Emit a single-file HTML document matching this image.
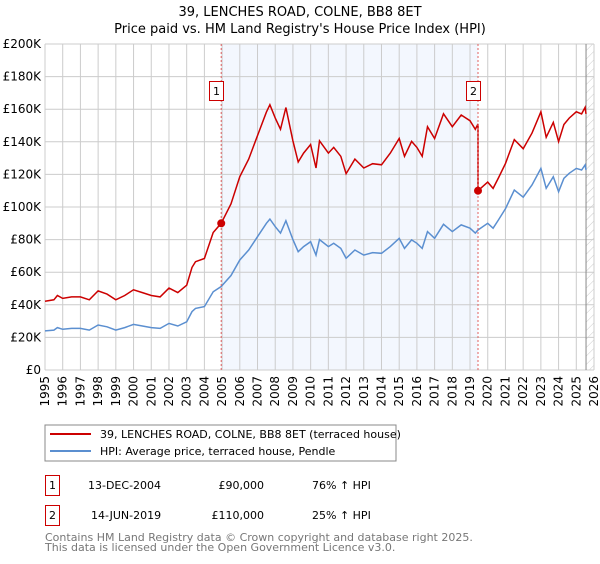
<!DOCTYPE html>
<html><head><meta charset="utf-8"><style>
body{margin:0;background:#fff;font-family:"DejaVu Sans","Liberation Sans",sans-serif;}
svg text{font-family:"DejaVu Sans","Liberation Sans",sans-serif;}
</style></head><body>
<svg id="c" width="600" height="560" xmlns="http://www.w3.org/2000/svg">
<defs><pattern id="hatch" width="6" height="6" patternUnits="userSpaceOnUse" patternTransform="rotate(45)"><line x1="0" y1="0" x2="0" y2="6" stroke="#ccc" stroke-width="1"/></pattern></defs>
<text x="300" y="16" text-anchor="middle" font-size="13" fill="#000">39, LENCHES ROAD, COLNE, BB8 8ET</text>
<text x="300" y="33" text-anchor="middle" font-size="13" fill="#000">Price paid vs. HM Land Registry's House Price Index (HPI)</text>
<g id="plot"></g>
<rect x="45" y="425" width="351" height="36" fill="#fff" stroke="#888"/>
<line x1="50" y1="434" x2="91" y2="434" stroke="#cc0000" stroke-width="2"/>
<text x="100" y="438" font-size="11">39, LENCHES ROAD, COLNE, BB8 8ET (terraced house)</text>
<line x1="50" y1="451" x2="91" y2="451" stroke="#5b8fd0" stroke-width="2"/>
<text x="100" y="455" font-size="11">HPI: Average price, terraced house, Pendle</text>
<g>
<rect x="45.5" y="475.5" width="14" height="20" fill="#fff" stroke="#cc0000"/>
<text x="52.5" y="489" text-anchor="middle" font-size="11">1</text>
<text x="88" y="489" font-size="11">13-DEC-2004</text>
<text x="264" y="489" text-anchor="end" font-size="11">£90,000</text>
<text x="312" y="489" font-size="11">76% ↑ HPI</text></g>
<g>
<rect x="45.5" y="505.5" width="14" height="20" fill="#fff" stroke="#cc0000"/>
<text x="52.5" y="519" text-anchor="middle" font-size="11">2</text>
<text x="91" y="519" font-size="11">14-JUN-2019</text>
<text x="264" y="519" text-anchor="end" font-size="11">£110,000</text>
<text x="312" y="519" font-size="11">25% ↑ HPI</text></g>
<text x="45" y="541" font-size="11" fill="#777">Contains HM Land Registry data © Crown copyright and database right 2025.</text>
<text x="45" y="551" font-size="11" fill="#777">This data is licensed under the Open Government Licence v3.0.</text>
</svg>
<script>
const years=[1995,1996,1997,1998,1999,2000,2001,2002,2003,2004,2005,2006,2007,2008,2009,2010,2011,2012,2013,2014,2015,2016,2017,2018,2019,2020,2021,2022,2023,2024,2025,2026];
const yTicks=[0,20,40,60,80,100,120,140,160,180,200];
const hpiT=[1995,1995.5,1995.7,1996,1996.5,1997,1997.5,1998,1998.5,1999,1999.5,2000,2000.5,2001,2001.5,2002,2002.5,2003,2003.3,2003.5,2004,2004.5,2004.95,2005.5,2006,2006.5,2007,2007.5,2007.7,2008,2008.3,2008.6,2009,2009.3,2009.6,2010,2010.3,2010.5,2011,2011.3,2011.7,2012,2012.5,2013,2013.5,2014,2014.5,2015,2015.3,2015.7,2016,2016.3,2016.6,2017,2017.5,2018,2018.5,2019,2019.3,2019.45,2020,2020.3,2020.6,2021,2021.5,2022,2022.5,2023,2023.3,2023.7,2024,2024.3,2024.6,2025,2025.3,2025.5,2025.55];
const hpiV=[24,24.5,26,25,25.5,25.5,24.5,27.6,26.5,24.5,26,28,27,26,25.5,28.6,27,29.6,35.8,37.8,38.9,48,51.2,58,67.5,73.6,81.8,90,92.6,88,84,91.6,80,72.6,75.7,78.7,70.5,80,75.7,77.7,74.6,68.5,73.6,70.5,72,71.6,75.7,80.8,74.6,79.8,77.7,74.6,84.9,80.8,89.4,84.9,89,87,84,85.9,90,87,92,99,110.4,106,113.5,123.7,111.5,118.6,109.4,117.6,120.7,123.7,122.7,125.8,122.7];
const saleT=[2004.95,2019.45];
const saleV=[90,110];
const saleLbl=["1","2"];
const X0=45,X1=594,Y0=370,Y1=44;
const xs=t=>X0+(t-1995)/(2026-1995)*(X1-X0);
const ys=v=>Y0-v/200*(Y0-Y1);
const g=document.getElementById('plot');
const NS='http://www.w3.org/2000/svg';
function mk(tag,attrs,parent){const e=document.createElementNS(NS,tag);for(const k in attrs)e.setAttribute(k,attrs[k]);(parent||g).appendChild(e);return e;}
const hpiAt=t=>{for(let i=1;i<hpiT.length;i++){if(t<=hpiT[i]){const f=(t-hpiT[i-1])/(hpiT[i]-hpiT[i-1]);return hpiV[i-1]+f*(hpiV[i]-hpiV[i-1]);}}return hpiV[hpiV.length-1];};
let e=mk('rect',{x:xs(saleT[0]),y:Y1,width:xs(saleT[1])-xs(saleT[0]),height:Y0-Y1,fill:'#eef3fd',opacity:0.7});


e=mk('rect',{x:xs(2025.55),y:Y1,width:X1-xs(2025.55),height:Y0-Y1,fill:'url(#hatch)'});


years.forEach(y=>{const l=mk('line',{x1:xs(y),x2:xs(y),y1:Y1,y2:Y0,stroke:'#ccc'});


const t=mk('text',{x:0,y:0,'font-size':12,'text-anchor':'end',transform:`translate(${xs(y)+4},${Y0+6}) rotate(-90)`});t.textContent=y;

});
yTicks.forEach(v=>{const l=mk('line',{x1:X0,x2:X1,y1:ys(v),y2:ys(v),stroke:'#ccc'});


const t=mk('text',{x:X0-4,y:ys(v)+4,'font-size':12,'text-anchor':'end'});t.textContent=v===0?'£0':'£'+v+'K';

});
e=mk('line',{x1:xs(2025.55),x2:xs(2025.55),y1:Y1,y2:Y0,stroke:'#888'});


let hp=hpiT.map((t,i)=>(i?'L':'M')+xs(t).toFixed(1)+','+ys(hpiV[i]).toFixed(1)).join('');
e=mk('path',{d:hp,fill:'none',stroke:'#5b8fd0','stroke-width':1.5});


const r0=saleV[0]/hpiAt(saleT[0]),r1=saleV[1]/hpiAt(saleT[1]);
let pts=[];
hpiT.forEach((t,i)=>{if(t<=saleT[1])pts.push([t,hpiV[i]*r0]);});
pts.push([saleT[1],saleV[1]]);
hpiT.forEach((t,i)=>{if(t>saleT[1])pts.push([t,hpiV[i]*r1]);});
e=mk('path',{d:pts.map((p,i)=>(i?'L':'M')+xs(p[0]).toFixed(1)+','+ys(p[1]).toFixed(1)).join(''),fill:'none',stroke:'#cc0000','stroke-width':1.5});


saleT.forEach((t,i)=>{
const l=mk('line',{x1:xs(t),x2:xs(t),y1:Y1,y2:Y0,stroke:'#e06060','stroke-dasharray':'2,2'});


const c=mk('circle',{cx:xs(t),cy:ys(saleV[i]),r:4,fill:'#cc0000'});


const b=mk('rect',{x:Math.round(xs(t)-11)-0.5,y:81.5,width:14,height:19,fill:'#fff',stroke:'#cc0000'});


const tx=mk('text',{x:Math.round(xs(t)-11)+6.5,y:95,'font-size':11,'text-anchor':'middle'});tx.textContent=saleLbl[i];


});
</script>
</body></html>
